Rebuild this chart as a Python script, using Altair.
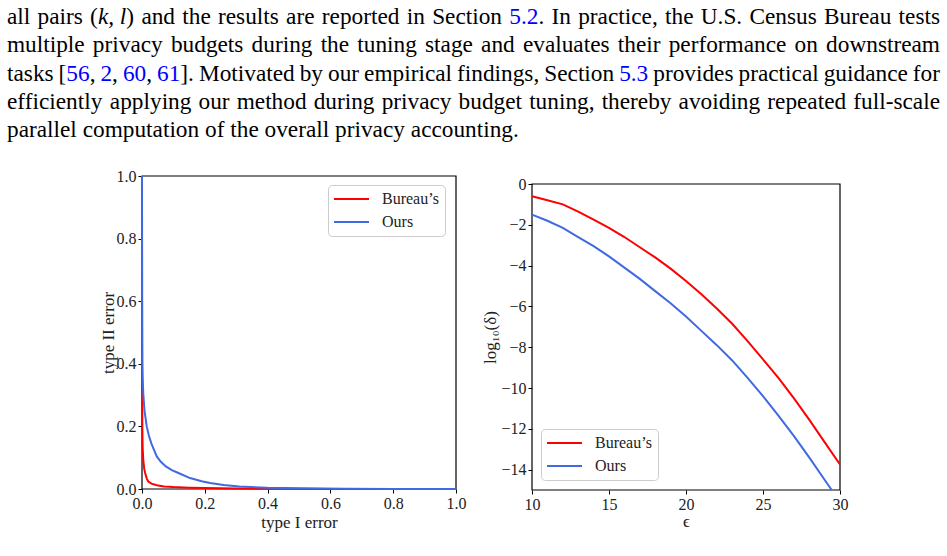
import altair as alt
import pandas as pd

SERIF = "Liberation Serif"
CANVAS_W, CANVAS_H = 947, 556
INK = "#222222"

# ---------------------------------------------------------------------------
# Data: trade-off curves (type I error vs type II error)
# ---------------------------------------------------------------------------
SERIES = ["Bureau\u2019s", "Ours"]
SERIES_COLORS = ["#ff0000", "#4169e1"]

bureau_type1 = [0.0, 0.0005, 0.001, 0.002, 0.004, 0.007, 0.01, 0.015, 0.02, 0.03,
                0.047, 0.07, 0.1, 0.15, 0.2, 0.3, 0.45, 0.6, 1.0]
bureau_type2 = [1.0, 0.3, 0.2, 0.136, 0.093, 0.065, 0.051, 0.034, 0.024, 0.017,
                0.012, 0.008, 0.006, 0.004, 0.003, 0.0015, 0.0006, 0.0002, 0.0]

ours_type1 = [0.0, 0.0003, 0.001, 0.002, 0.004, 0.008, 0.015, 0.022, 0.03, 0.047,
              0.06, 0.076, 0.095, 0.116, 0.153, 0.19, 0.217, 0.26, 0.31, 0.4,
              0.5, 0.65, 0.8, 1.0]
ours_type2 = [1.0, 0.6, 0.41, 0.36, 0.306, 0.25, 0.2, 0.17, 0.145, 0.104,
              0.087, 0.072, 0.06, 0.051, 0.035, 0.025, 0.019, 0.013, 0.008, 0.004,
              0.002, 0.0008, 0.0003, 0.0]

# ---------------------------------------------------------------------------
# Data: log10(delta) against epsilon
# ---------------------------------------------------------------------------
bureau_eps = [10, 11, 12, 13, 14, 15, 16, 17, 18, 19, 20,
              21, 22, 23, 24, 25, 26, 27, 28, 29, 30]
bureau_logdelta = [-0.6, -0.8, -1.0, -1.35, -1.75, -2.15, -2.6, -3.1, -3.6, -4.15, -4.75,
                   -5.4, -6.1, -6.85, -7.7, -8.6, -9.5, -10.5, -11.55, -12.65, -13.75]

ours_eps = [10, 11, 12, 13, 14, 15, 16, 17, 18, 19, 20,
            21, 22, 23, 24, 25, 26, 27, 28, 29, 29.46]
ours_logdelta = [-1.5, -1.8, -2.15, -2.6, -3.05, -3.55, -4.1, -4.65, -5.25, -5.85, -6.5,
                 -7.2, -7.9, -8.65, -9.5, -10.4, -11.35, -12.35, -13.4, -14.5, -15.0]

# axis domains and tick values
L_X_DOMAIN, L_Y_DOMAIN = [0.0, 1.0], [0.0, 1.0]
L_TICKS = [0.0, 0.2, 0.4, 0.6, 0.8, 1.0]
R_X_DOMAIN, R_Y_DOMAIN = [10, 30], [-15, 0]
R_X_TICKS = [10, 15, 20, 25, 30]
R_Y_TICKS = [0, -2, -4, -6, -8, -10, -12, -14]

# ---------------------------------------------------------------------------
# Paragraph above the figure (justified, with blue cross-references)
# ---------------------------------------------------------------------------
TEXT_SIZE = 23.3
TEXT_LEFT, TEXT_RIGHT = 7, 940
BASELINES = [24, 52.25, 80.5, 108.75, 137]
BLACK, LINK = "#000000", "#0000ff"

PARAGRAPH = [
    ([("all pairs (", BLACK, False), ("k,\u00a0l", BLACK, True),
      (") and the results are reported in Section ", BLACK, False), ("5.2", LINK, False),
      (". In practice, the U.S. Census Bureau tests", BLACK, False)], True),
    ([("multiple privacy budgets during the tuning stage and evaluates their "
       "performance on downstream", BLACK, False)], True),
    ([("tasks [", BLACK, False), ("56", LINK, False), (", ", BLACK, False),
      ("2", LINK, False), (", ", BLACK, False), ("60", LINK, False), (", ", BLACK, False),
      ("61", LINK, False), ("]. Motivated by our empirical findings, Section ", BLACK, False),
      ("5.3", LINK, False), (" provides practical guidance for", BLACK, False)], True),
    ([("efficiently applying our method during privacy budget tuning, thereby "
       "avoiding repeated full-scale", BLACK, False)], True),
    ([("parallel computation of the overall privacy accounting.", BLACK, False)], False),
]

# Times-compatible advance widths (per 1000 em) used to justify the lines
ROMAN = {" ": 250, "\u00a0": 250, "(": 333, ")": 333, ",": 250, "-": 333, ".": 250,
         "[": 333, "]": 333}
ROMAN.update({d: 500 for d in "0123456789"})
ROMAN.update(dict(A=722, B=667, C=667, D=722, E=611, F=556, G=722, H=722, I=333, J=389,
                  K=722, L=611, M=889, N=722, O=722, P=556, Q=722, R=667, S=556, T=611,
                  U=722, V=722, W=944, X=722, Y=722, Z=611))
ROMAN.update(dict(a=444, b=500, c=444, d=500, e=444, f=333, g=500, h=500, i=278, j=278,
                  k=500, l=278, m=778, n=500, o=500, p=500, q=500, r=333, s=389, t=278,
                  u=500, v=500, w=722, x=500, y=500, z=444))
ITALIC = {"k": 444, "l": 278, ",": 250, "\u00a0": 250}


def run_width(text, italic):
    table = ITALIC if italic else ROMAN
    return sum(table.get(ch, ROMAN.get(ch, 500)) for ch in text) * TEXT_SIZE / 1000.0


def layout_paragraph():
    rows = []
    for (runs, justify), base in zip(PARAGRAPH, BASELINES):
        words = [[]]
        for text, color, italic in runs:
            parts = text.split(" ")
            for k, part in enumerate(parts):
                if k > 0:
                    words.append([])
                if part:
                    words[-1].append((part, color, italic))
        words = [w for w in words if w]
        widths = [sum(run_width(p, it) for p, _, it in w) for w in words]
        if justify and len(words) > 1:
            gap = (TEXT_RIGHT - TEXT_LEFT - sum(widths)) / (len(words) - 1)
        else:
            gap = run_width(" ", False)
        x = TEXT_LEFT
        for w, wd in zip(words, widths):
            px = x
            for part, color, italic in w:
                rows.append({"txt": part, "px": px, "py": base, "col": color,
                             "italic": italic})
                px += run_width(part, italic)
            x += wd + gap
    return pd.DataFrame(rows)


para_df = layout_paragraph()


def para_layer(italic):
    return alt.Chart(para_df[para_df["italic"] == italic]).mark_text(
        align="left", baseline="alphabetic", font=SERIF, fontSize=TEXT_SIZE,
        fontStyle="italic" if italic else "normal",
    ).encode(
        x=alt.X("px:Q", scale=None, axis=None),
        y=alt.Y("py:Q", scale=None, axis=None),
        color=alt.Color("col:N", scale=None, legend=None),
        text="txt:N",
    )


# ---------------------------------------------------------------------------
# Shared styling helpers
# ---------------------------------------------------------------------------
def make_axis(orient, offset, values, fmt, title, **extra):
    return alt.Axis(
        orient=orient, offset=offset, values=values, format=fmt, title=title,
        grid=False, domain=False, ticks=True, tickSize=4, tickColor="black",
        tickWidth=1, labelFont=SERIF, labelFontSize=16, labelColor=INK,
        labelPadding=2, labelFlush=False, labelOverlap=False,
        titleFont=SERIF, titleFontSize=17, titleFontWeight="normal",
        titleColor=INK, titleBaseline="middle", **extra,
    )


def make_legend(lx, ly):
    return alt.Legend(
        title=None, orient="none", legendX=lx, legendY=ly,
        symbolType="M-3.5,0H3.5", symbolSize=100, symbolStrokeWidth=2,
        symbolOffset=9.5, labelOffset=22.5, labelFont=SERIF, labelFontSize=16,
        labelColor=INK, padding=6, rowPadding=7, strokeColor="#cccccc",
        fillColor="white", cornerRadius=4,
    )


color_scale = alt.Scale(domain=SERIES, range=SERIES_COLORS)


def panel(df, xcol, ycol, x_dom, y_dom, x_rng, y_rng, x_axis, y_axis, legend):
    xs = alt.Scale(domain=x_dom, range=x_rng, nice=False, zero=False)
    ys = alt.Scale(domain=y_dom, range=y_rng, nice=False, zero=False)
    frame_df = pd.DataFrame({"x0": [x_dom[0]], "x1": [x_dom[1]],
                             "y0": [y_dom[0]], "y1": [y_dom[1]]})
    frame = alt.Chart(frame_df).mark_rect(
        filled=False, stroke="black", strokeWidth=1.2
    ).encode(
        x=alt.X("x0:Q", scale=xs, axis=x_axis), x2="x1:Q",
        y=alt.Y("y0:Q", scale=ys, axis=y_axis), y2="y1:Q",
    )
    lines = alt.Chart(df).mark_line(strokeWidth=2).encode(
        x=alt.X(f"{xcol}:Q", scale=xs, axis=x_axis),
        y=alt.Y(f"{ycol}:Q", scale=ys, axis=y_axis),
        color=alt.Color("series:N", scale=color_scale, legend=legend),
        order=alt.Order(f"{xcol}:Q"),
    )
    return alt.layer(frame, lines)


# ---------------------------------------------------------------------------
# Left panel
# ---------------------------------------------------------------------------
left_df = pd.concat([
    pd.DataFrame({"series": SERIES[0], "t1": bureau_type1, "t2": bureau_type2}),
    pd.DataFrame({"series": SERIES[1], "t1": ours_type1, "t2": ours_type2}),
], ignore_index=True)

L_LEFT, L_RIGHT, L_TOP, L_BOTTOM = 142, 456, 176, 489
left_panel = panel(
    left_df, "t1", "t2", L_X_DOMAIN, L_Y_DOMAIN,
    [L_LEFT, L_RIGHT], [L_BOTTOM, L_TOP],
    make_axis("bottom", L_BOTTOM - CANVAS_H, L_TICKS, ".1f", "type I error", titleY=33),
    make_axis("left", -L_LEFT, L_TICKS, ".1f", "type II error", titleX=-34),
    make_legend(328, 185),
)

# ---------------------------------------------------------------------------
# Right panel
# ---------------------------------------------------------------------------
right_df = pd.concat([
    pd.DataFrame({"series": SERIES[0], "eps": bureau_eps, "logd": bureau_logdelta}),
    pd.DataFrame({"series": SERIES[1], "eps": ours_eps, "logd": ours_logdelta}),
], ignore_index=True)

R_LEFT, R_RIGHT, R_TOP, R_BOTTOM = 532, 840, 184, 490
right_panel = panel(
    right_df, "eps", "logd", R_X_DOMAIN, R_Y_DOMAIN,
    [R_LEFT, R_RIGHT], [R_BOTTOM, R_TOP],
    make_axis("bottom", R_BOTTOM - CANVAS_H, R_X_TICKS, "d", "\u03f5", titleY=31),
    make_axis("left", -R_LEFT, R_Y_TICKS, "d", "log\u2081\u2080(\u03b4)", titleX=-42),
    make_legend(541, 429),
)

chart = alt.layer(
    para_layer(False), para_layer(True), left_panel, right_panel
).resolve_scale(
    x="independent", y="independent", color="independent"
).resolve_axis(
    x="independent", y="independent"
).resolve_legend(
    color="independent"
).properties(
    width=CANVAS_W, height=CANVAS_H, padding=0, background="white",
    autosize=alt.AutoSizeParams(type="none"),
).configure_view(stroke=None)

chart.save("out.html", embed_options={"renderer": "svg", "actions": False})
